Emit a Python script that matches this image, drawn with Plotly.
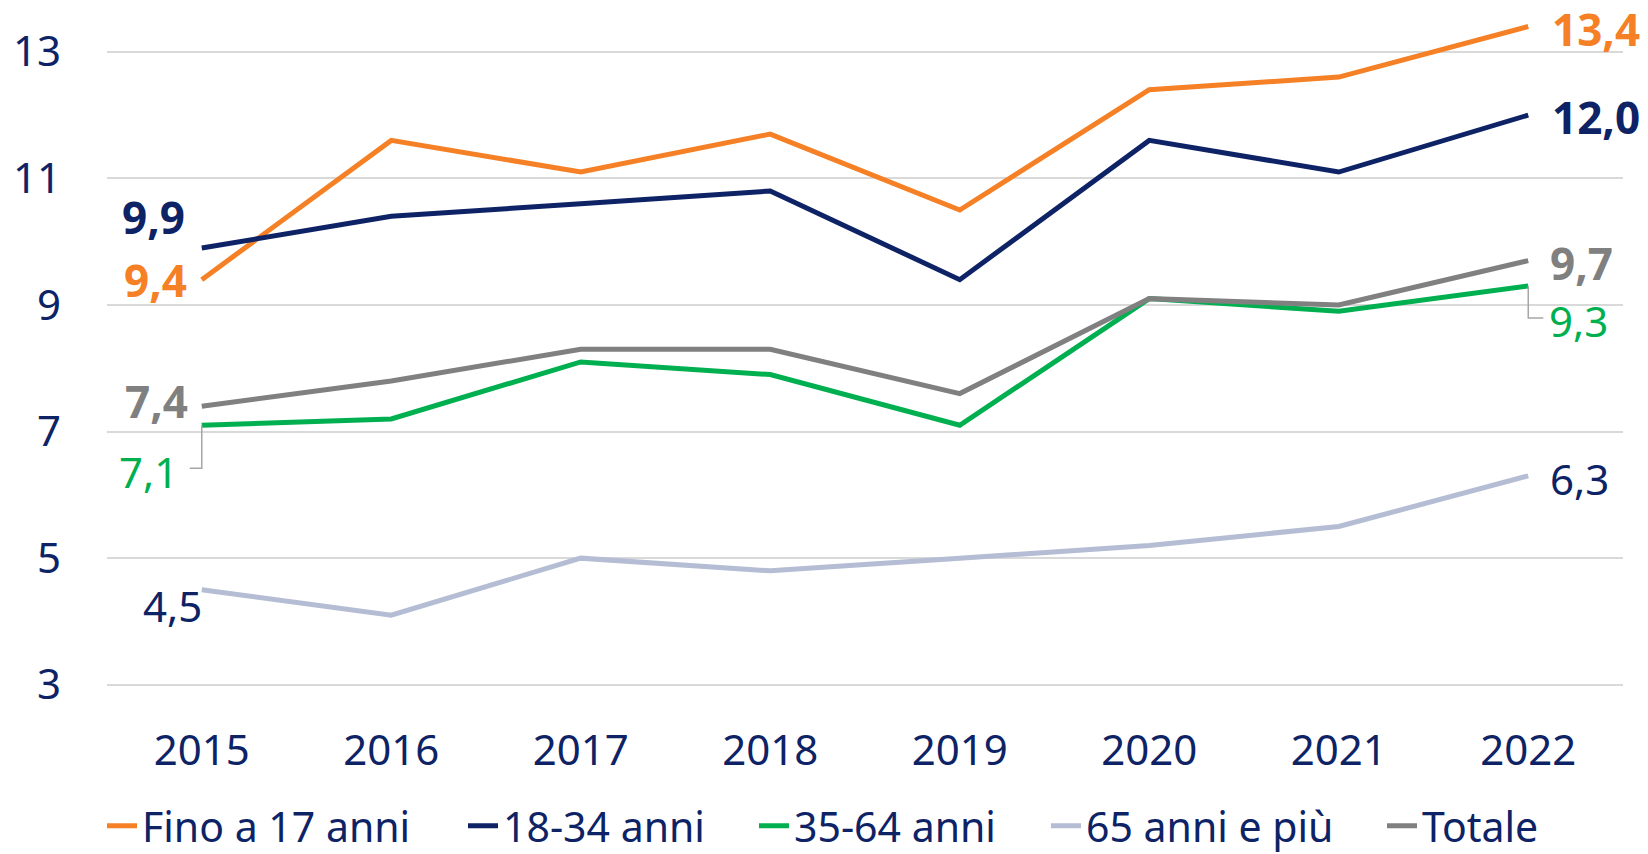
import plotly.graph_objects as go

years = [2015, 2016, 2017, 2018, 2019, 2020, 2021, 2022]
fino17 = [9.4, 11.6, 11.1, 11.7, 10.5, 12.4, 12.6, 13.4]
a18_34 = [9.9, 10.4, 10.6, 10.8, 9.4, 11.6, 11.1, 12.0]
a35_64 = [7.1, 7.2, 8.1, 7.9, 7.1, 9.1, 8.9, 9.3]
a65 = [4.5, 4.1, 5.0, 4.8, 5.0, 5.2, 5.5, 6.3]
totale = [7.4, 7.8, 8.3, 8.3, 7.6, 9.1, 9.0, 9.7]
series_names = ["Fino a 17 anni", "18-34 anni", "35-64 anni", "65 anni e più", "Totale"]
y_ticks = [3, 5, 7, 9, 11, 13]

NAVY = "#0D2366"
colors = ["#F58025", "#0D2366", "#00B050", "#B4BDD3", "#808080"]
series = [fino17, a18_34, a35_64, a65, totale]
FONT = "Noto Sans"
W, H = 1648, 854

# legend text start positions (pixels from left)
legend_text_x = [144, 505, 796, 1088, 1424]
legend_ids = ["legend", "legend2", "legend3", "legend4", "legend5"]

fig = go.Figure()
for name, vals, col, lid in zip(series_names, series, colors, legend_ids):
    fig.add_trace(go.Scatter(x=years, y=vals, name=name, mode="lines",
                             line=dict(color=col, width=5), legend=lid))

def fmt(v):
    return f"{v:.1f}".replace(".", ",")

# label styles: (series values, index, color, bold, xanchor, xshift, yshift)
label_specs = [
    (a18_34, 0, colors[1], True, "right", -16, 31),
    (fino17, 0, colors[0], True, "right", -14, 0),
    (totale, 0, colors[4], True, "right", -13, 5),
    (a35_64, 0, colors[2], False, "right", -23, -46),
    (a65, 0, NAVY, False, "right", 1, -16),
    (fino17, 7, colors[0], True, "left", 23, -3),
    (a18_34, 7, colors[1], True, "left", 23, -2),
    (totale, 7, colors[4], True, "left", 21, -2),
    (a35_64, 7, colors[2], False, "left", 20, -35),
    (a65, 7, NAVY, False, "left", 21, -3),
]
for vals, i, col, bold, xa, xs, ys in label_specs:
    txt = fmt(vals[i])
    size = 42
    if bold:
        txt = f"<b>{txt}</b>"
        size = 44
    fig.add_annotation(x=years[i], y=vals[i], text=txt, showarrow=False,
                       xanchor=xa, yanchor="middle", xshift=xs, yshift=ys, borderpad=0,
                       font=dict(family=FONT, size=size, color=col))

# leader lines (pixel paths anchored at data points)
leaders = [
    (years[0], a35_64[0], "M0,0 V-43 H-12"),
    (years[7], a35_64[7], "M0,0 V-32 H15"),
]
for xa, ya, path in leaders:
    fig.add_shape(type="path", xref="x", yref="y", xsizemode="pixel", ysizemode="pixel",
                  xanchor=xa, yanchor=ya, path=path,
                  line=dict(color="#A6A6A6", width=1.5))

legend_layout = {}
for lid, tx in zip(legend_ids, legend_text_x):
    legend_layout[lid] = dict(orientation="h", xref="container", x=(tx - 42) / W,
                              xanchor="left", yref="container", y=(H - 826) / H,
                              yanchor="middle", bgcolor="rgba(0,0,0,0)",
                              font=dict(family=FONT, size=41, color=NAVY),
                              itemwidth=30)

fig.update_layout(
    width=W, height=H,
    margin=dict(l=107, r=25, t=10, b=168, autoexpand=False),
    paper_bgcolor="white", plot_bgcolor="white",
    font=dict(family=FONT, color=NAVY, size=42),
    showlegend=True,
    xaxis=dict(range=[2014.5, 2022.5], tickvals=years, ticktext=[str(y) for y in years],
               showgrid=False, zeroline=False, showline=False,
               ticklabelstandoff=36, tickfont=dict(size=42, color=NAVY)),
    yaxis=dict(range=[2.98, 13.66], tickvals=y_ticks, showgrid=True,
               gridcolor="#D9D9D9", gridwidth=1.5, zeroline=False, showline=False,
               ticklabelstandoff=45, tickfont=dict(size=42, color=NAVY)),
    **legend_layout,
)

fig.write_html("out.html", config={"displayModeBar": False},
               post_script="document.body.style.margin='0';document.body.style.overflow='hidden';")
